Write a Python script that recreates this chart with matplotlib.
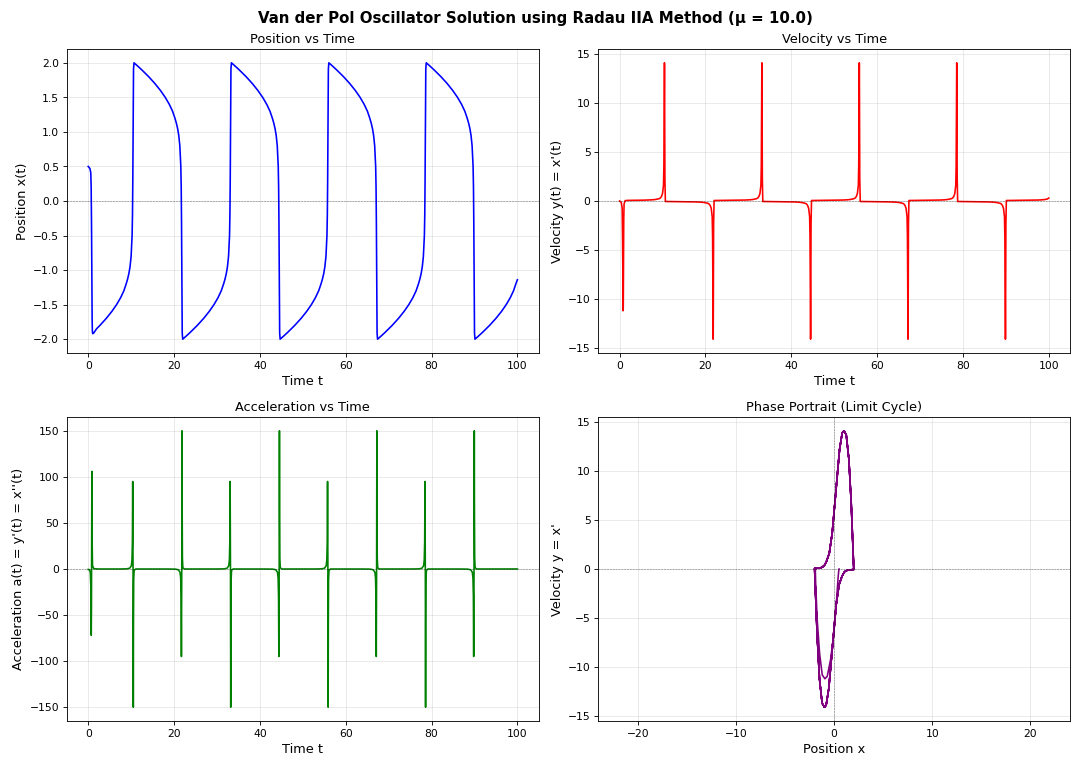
"""
Van der Pol oscillator (mu = 10) - four panel summary figure.
Curves are rebuilt from values read off the reference picture.
"""

import matplotlib
matplotlib.use("Agg")  # Non-interactive backend
import matplotlib.pyplot as plt

DPI = 77.4

# --- spike times (velocity extremes) -------------------------------------
UP_TIMES = [10.45, 33.15, 55.85, 78.55]
DOWN_TIMES = [21.80, 44.50, 67.20, 89.90]

# --- start: x(0) = 0.5, first fast drop --------------------------------------
INIT_T = [0.0, 0.40, 0.60, 0.69, 0.74, 0.777, 0.81, 0.833, 0.858, 0.886, 0.92, 0.97, 1.05, 1.30]
INIT_X = [0.50, 0.47, 0.41, 0.20, -0.07, -0.37, -0.71, -0.95, -1.22, -1.49, -1.73, -1.88, -1.92, -1.91]
INIT_Y = [0.0, -0.15, -0.75, -3.8, -6.9, -9.25, -10.96, -11.2, -10.8, -8.6, -5.2, -1.8, -0.3, 0.04]

# first slow branch before the first up jump
FIRST_SLOW_T = [1.94, 2.74, 4.20, 5.49, 6.61, 7.55, 8.31]
FIRST_SLOW_X = [-1.85, -1.80, -1.70, -1.60, -1.50, -1.40, -1.30]
FIRST_SLOW_Y = [0.062, 0.065, 0.072, 0.083, 0.097, 0.118, 0.15]

# --- shape around an up jump (a down jump is the mirror) -----------------
# before the spike, dt relative to the velocity peak
PRE_DT = [-1.6, -1.27, -0.97, -0.70, -0.45, -0.22, -0.13, -0.085, -0.055, -0.033, -0.012]
PRE_X = [-1.20, -1.13, -1.05, -0.95, -0.80, -0.50, -0.20, 0.07, 0.31, 0.55, 0.82]
PRE_Y = [0.20, 0.23, 0.30, 0.45, 0.75, 1.60, 3.67, 6.70, 9.45, 12.20, 13.90]
# peak and slow branch after it
POST_DT = [0.0, 0.02, 0.04, 0.07, 0.11, 0.22, 1.13, 2.00, 3.63, 5.09, 6.38, 7.50, 8.44, 9.20]
POST_X = [0.99, 1.23, 1.50, 1.74, 1.91, 2.00, 1.95, 1.90, 1.80, 1.70, 1.60, 1.50, 1.40, 1.30]
POST_Y = [14.1, 13.7, 11.2, 6.7, 2.3, -0.05, -0.055, -0.06, -0.065, -0.072, -0.083, -0.097,
          -0.118, -0.15]

END_T = [99.64, 100.0]
END_X = [-1.20, -1.14]
END_Y = [0.20, 0.30]

# --- acceleration y'(t) -------------------------------------------------------
INIT_ACC_T = [0.0, 0.3, 0.5, 0.62, 0.71, 0.76, 0.81, 0.86, 0.92, 1.0, 1.3, 2.5]
INIT_ACC = [-0.5, -0.8, -4.0, -20.0, -72.0, -40.0, 20.0, 106.0, 30.0, 4.0, 0.3, 0.02]
ACC_DT = [-3.0, -1.5, -0.8, -0.4, -0.25, -0.15, -0.08, -0.03, 0.0, 0.03, 0.06, 0.10, 0.15, 0.25, 0.6]
ACC_UP = [0.02, 0.15, 0.8, 3.5, 10.0, 30.0, 95.0, 50.0, 0.0, -90.0, -150.0, -60.0, -12.0, -1.5, 0.0]
END_ACC_T = [100.0]
END_ACC = [0.03]


def spikes():
    ev = [(tc, 1) for tc in UP_TIMES] + [(tc, -1) for tc in DOWN_TIMES]
    return sorted(ev)


def build_track():
    t = INIT_T + FIRST_SLOW_T
    x = INIT_X + FIRST_SLOW_X
    y = INIT_Y + FIRST_SLOW_Y
    for tc, s in spikes():
        for dt, px, py in zip(PRE_DT + POST_DT, PRE_X + POST_X, PRE_Y + POST_Y):
            t.append(tc + dt)
            x.append(s * px)
            y.append(s * py)
    t += END_T
    x += END_X
    y += END_Y
    return t, x, y


def build_acc():
    t = list(INIT_ACC_T)
    a = list(INIT_ACC)
    for tc, s in spikes():
        for dt, av in zip(ACC_DT, ACC_UP):
            t.append(tc + dt)
            a.append(s * av)
    t += END_ACC_T
    a += END_ACC
    return t, a


def zero_line(ax):
    ax.axhline(0, color="k", linestyle="--", linewidth=0.5, alpha=0.5)


def main():
    t, x, y = build_track()
    ta, acc = build_acc()

    fig, axes = plt.subplots(2, 2, figsize=(1071.3 / DPI, 758.3 / DPI), dpi=DPI)
    fig.subplots_adjust(left=0.0623, right=0.999, top=0.935, bottom=0.0488,
                        wspace=0.1256, hspace=0.2105)
    fig.suptitle("Van der Pol Oscillator Solution using Radau IIA Method (μ = 10.0)",
                 fontsize=14, fontweight="bold", y=0.985)

    ax = axes[0, 0]
    ax.plot(t, x, color="b", linewidth=1.5)
    zero_line(ax)
    ax.set_title("Position vs Time", fontsize=12)
    ax.set_xlabel("Time t", fontsize=12)
    ax.set_ylabel("Position x(t)", fontsize=12)
    ax.grid(True, alpha=0.3)

    ax = axes[0, 1]
    ax.plot(t, y, color="r", linewidth=1.5)
    zero_line(ax)
    ax.set_title("Velocity vs Time", fontsize=12)
    ax.set_xlabel("Time t", fontsize=12)
    ax.set_ylabel("Velocity y(t) = x'(t)", fontsize=12)
    ax.grid(True, alpha=0.3)

    ax = axes[1, 0]
    ax.plot(ta, acc, color="g", linewidth=1.5)
    zero_line(ax)
    ax.set_title("Acceleration vs Time", fontsize=12)
    ax.set_xlabel("Time t", fontsize=12)
    ax.set_ylabel("Acceleration a(t) = y'(t) = x''(t)", fontsize=12)
    ax.grid(True, alpha=0.3)

    ax = axes[1, 1]
    ax.plot(x, y, color="purple", linewidth=1.5)
    zero_line(ax)
    ax.axvline(0, color="k", linestyle="--", linewidth=0.5, alpha=0.5)
    ax.set_title("Phase Portrait (Limit Cycle)", fontsize=12)
    ax.set_xlabel("Position x", fontsize=12)
    ax.set_ylabel("Velocity y = x'", fontsize=12)
    ax.grid(True, alpha=0.3)
    ax.axis("equal")

    fig.savefig("out.png", dpi=DPI)
    plt.close(fig)


if __name__ == "__main__":
    main()
